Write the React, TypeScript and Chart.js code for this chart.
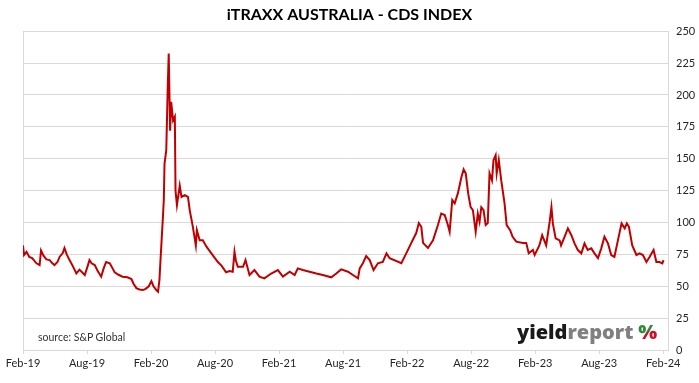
import React, { useEffect, useRef } from "react";
import { Chart, registerables } from "chart.js";

Chart.register(...registerables);

const chartTitle = "iTRAXX AUSTRALIA - CDS INDEX";
const tickLabels = ["Feb-19", "Aug-19", "Feb-20", "Aug-20", "Feb-21", "Aug-21", "Feb-22", "Aug-22", "Feb-23", "Aug-23", "Feb-24"];
const yTicks = [0, 25, 50, 75, 100, 125, 150, 175, 200, 225, 250];

const dates = [
  "2019-02-01", "2019-02-04", "2019-02-11", "2019-02-19", "2019-02-27", "2019-03-09", "2019-03-18", "2019-03-22", "2019-03-29", "2019-04-07",
  "2019-04-16", "2019-04-24", "2019-04-30", "2019-05-08", "2019-05-14", "2019-05-23", "2019-05-28", "2019-06-04", "2019-06-12", "2019-06-21",
  "2019-07-01", "2019-07-10", "2019-07-25", "2019-08-03", "2019-08-08", "2019-08-14", "2019-08-23", "2019-09-01", "2019-09-11", "2019-09-18",
  "2019-09-25", "2019-10-05", "2019-10-13", "2019-10-19", "2019-10-30", "2019-11-11", "2019-11-25", "2019-12-06", "2019-12-12", "2019-12-20",
  "2019-12-29", "2020-01-08", "2020-01-16", "2020-01-25", "2020-02-02", "2020-02-08", "2020-02-16", "2020-02-21", "2020-02-25", "2020-02-28",
  "2020-03-04", "2020-03-07", "2020-03-09", "2020-03-14", "2020-03-18", "2020-03-21", "2020-03-25", "2020-03-28", "2020-04-03", "2020-04-08",
  "2020-04-10", "2020-04-14", "2020-04-22", "2020-04-27", "2020-05-06", "2020-05-15", "2020-05-20", "2020-05-29", "2020-06-07", "2020-06-10",
  "2020-06-18", "2020-06-27", "2020-07-07", "2020-07-21", "2020-07-31", "2020-08-09", "2020-08-20", "2020-09-02", "2020-09-12", "2020-09-21",
  "2020-09-26", "2020-09-30", "2020-10-05", "2020-10-20", "2020-10-27", "2020-11-08", "2020-11-22", "2020-12-06", "2020-12-20", "2021-01-09",
  "2021-01-28", "2021-02-12", "2021-03-01", "2021-03-15", "2021-03-24", "2021-04-08", "2021-04-27", "2021-05-16", "2021-06-04", "2021-06-28",
  "2021-07-12", "2021-07-26", "2021-08-15", "2021-08-29", "2021-09-13", "2021-09-18", "2021-09-27", "2021-10-06", "2021-10-16", "2021-10-27",
  "2021-11-09", "2021-11-23", "2021-12-03", "2021-12-12", "2022-01-15", "2022-01-29", "2022-02-13", "2022-02-27", "2022-03-04", "2022-03-11",
  "2022-03-16", "2022-03-30", "2022-04-14", "2022-04-28", "2022-05-07", "2022-05-17", "2022-05-26", "2022-05-31", "2022-06-08", "2022-06-15",
  "2022-06-24", "2022-07-04", "2022-07-10", "2022-07-16", "2022-07-23", "2022-07-30", "2022-08-06", "2022-08-14", "2022-08-20", "2022-08-25",
  "2022-08-30", "2022-09-06", "2022-09-12", "2022-09-18", "2022-09-23", "2022-09-30", "2022-10-04", "2022-10-10", "2022-10-13", "2022-10-19",
  "2022-10-26", "2022-11-05", "2022-11-11", "2022-11-21", "2022-11-28", "2022-12-08", "2022-12-27", "2023-01-06", "2023-01-13", "2023-01-25",
  "2023-01-30", "2023-02-13", "2023-02-21", "2023-03-02", "2023-03-12", "2023-03-17", "2023-03-21", "2023-03-29", "2023-04-10", "2023-04-14",
  "2023-04-24", "2023-05-03", "2023-05-13", "2023-05-22", "2023-06-01", "2023-06-11", "2023-06-20", "2023-06-29", "2023-07-09", "2023-07-18",
  "2023-07-28", "2023-08-07", "2023-08-16", "2023-08-26", "2023-09-05", "2023-09-14", "2023-09-24", "2023-10-04", "2023-10-13", "2023-10-19",
  "2023-10-25", "2023-11-04", "2023-11-16", "2023-11-25", "2023-12-04", "2023-12-14", "2023-12-23", "2024-01-04", "2024-01-12", "2024-01-21",
  "2024-01-29", "2024-02-02",
];

const cdsValues = [
  82, 74.5, 77, 73, 72, 68, 66.6, 78, 74, 71,
  70.5, 68, 66.6, 69, 73, 76, 80, 75, 70.5, 66,
  60, 63, 58.8, 66, 70.5, 68, 66.6, 62, 57.5, 64,
  69, 68, 64, 61, 59, 57.5, 57, 55.6, 52, 48.5,
  47.5, 47, 48, 50, 54, 50, 47, 45.7, 55, 70.5,
  102, 117.6, 146, 156.7, 203.8, 232.5, 172, 194.6, 180, 183,
  125, 113.6, 129, 120, 121.5, 120, 109.7, 96.6, 82, 94,
  86, 86, 81, 75.8, 72, 69, 66, 61, 62, 61.4,
  77, 70, 65.3, 65.3, 70.5, 58.8, 62.7, 57.5, 56.2, 60,
  62.7, 57.5, 61.4, 58.8, 64, 62.7, 61.4, 60, 58.8, 57,
  60, 63.2, 61.4, 58.8, 56.2, 64, 68, 73.7, 70.5, 62.7,
  68, 69, 75.8, 72, 68, 75.8, 84, 91.7, 99.5, 96.6,
  84, 80, 86, 98, 107, 105.8, 98, 92.7, 117.6, 115,
  122.8, 135.8, 141.6, 138.5, 122.8, 112, 109.7, 92.7, 107, 100.6,
  112, 109.7, 98, 99.5, 138.5, 133, 149, 152.8, 138.5, 149,
  133, 115, 98, 94, 88.8, 85, 84, 84, 75.8, 78.4,
  74.5, 82, 90, 82, 100.6, 112, 99.3, 87.5, 86, 82,
  88.8, 95.4, 90, 83.6, 78.4, 75.8, 83.6, 78.4, 79.7, 75.8,
  72, 79.7, 88.8, 83.6, 74.5, 73, 86, 99.3, 95.4, 99.3,
  96.6, 82, 74.5, 75.8, 74.5, 69, 73, 78.4, 69, 69,
  68, 70.5,
];

function monthsSinceStart(d: string): number {
  const [y, m, day] = d.split("-").map(Number);
  return (y - 2019) * 12 + (m - 2) + (day - 1) / 30.44;
}

export default function App() {
  const canvasRef = useRef<HTMLCanvasElement | null>(null);

  useEffect(() => {
    if (!canvasRef.current) return;
    const points = dates.map((d, i) => ({ x: monthsSinceStart(d), y: cdsValues[i] }));
    const chart = new Chart(canvasRef.current, {
      type: "line",
      data: {
        datasets: [
          {
            label: "iTraxx Australia",
            data: points,
            borderColor: "#c00000",
            borderWidth: 2,
            pointRadius: 0,
            tension: 0,
            fill: false,
            xAxisID: "x",
            yAxisID: "y",
          },
        ],
      },
      options: {
        responsive: false,
        animation: false,
        layout: { padding: 0 },
        plugins: {
          legend: { display: false },
          tooltip: { enabled: false },
          title: {
            display: true,
            text: chartTitle,
            color: "#000",
            font: { family: "Lato", size: 16, weight: "bold", lineHeight: 1.2 },
            padding: { top: 5, bottom: 7 },
          },
        },
        scales: {
          x: {
            type: "linear",
            min: 0,
            max: 60.45,
            afterBuildTicks: (scale: any) => {
              scale.ticks = tickLabels.map((_, i) => ({ value: i * 6 }));
            },
            afterFit: (scale: any) => {
              scale.height = 33;
            },
            ticks: {
              autoSkip: false,
              maxRotation: 0,
              padding: 3,
              color: "#262626",
              font: { family: "Lato", size: 11 },
              callback: (v: any) => tickLabels[Math.round(Number(v) / 6)] ?? "",
            },
            grid: {
              drawTicks: true,
              tickLength: 4,
              tickColor: "#d9d9d9",
              color: (ctx: any) => (ctx.index === 0 ? "#d9d9d9" : "rgba(0,0,0,0)"),
            },
            border: { display: true, color: "#d9d9d9" },
          },
          y: {
            position: "right",
            min: 0,
            max: 250,
            afterBuildTicks: (scale: any) => {
              scale.ticks = yTicks.map((v) => ({ value: v }));
            },
            afterFit: (scale: any) => {
              scale.width = 31;
            },
            ticks: {
              padding: 8,
              color: "#262626",
              font: { family: "Lato", size: 11 },
            },
            grid: { drawTicks: false, color: "#d9d9d9" },
            border: { display: true, color: "#d9d9d9" },
          },
          leftSpace: {
            position: "left",
            min: 0,
            max: 250,
            afterFit: (scale: any) => {
              scale.width = 23;
            },
            ticks: { display: false },
            grid: { display: false, drawTicks: false },
            border: { display: false },
          },
        },
      },
    });
    return () => chart.destroy();
  }, []);

  return (
    <div style={{ position: "absolute", left: 0, top: 0, width: 699, height: 383, background: "#fff" }}>
      <canvas ref={canvasRef} width={699} height={383} style={{ display: "block" }} />
      <div
        style={{
          position: "absolute",
          left: 38,
          top: 330,
          fontFamily: "Lato, sans-serif",
          fontSize: 10.5,
          lineHeight: "14px",
          color: "#333",
          whiteSpace: "nowrap",
        }}
      >
        source: S&amp;P Global
      </div>
      <div
        style={{
          position: "absolute",
          left: 517,
          top: 319,
          fontFamily: "'Open Sans', sans-serif",
          fontWeight: 800,
          fontSize: 20,
          lineHeight: "26px",
          whiteSpace: "nowrap",
          letterSpacing: 0,
        }}
      >
        <span style={{ color: "#1a1a1a" }}>yield</span>
        <span style={{ color: "#808080" }}>report</span>
        <span
          style={{
            marginLeft: 5,
            background: "linear-gradient(135deg, #2e8b3a 50%, #c8102e 50%)",
            WebkitBackgroundClip: "text",
            backgroundClip: "text",
            color: "transparent",
          }}
        >
          %
        </span>
      </div>
    </div>
  );
}
